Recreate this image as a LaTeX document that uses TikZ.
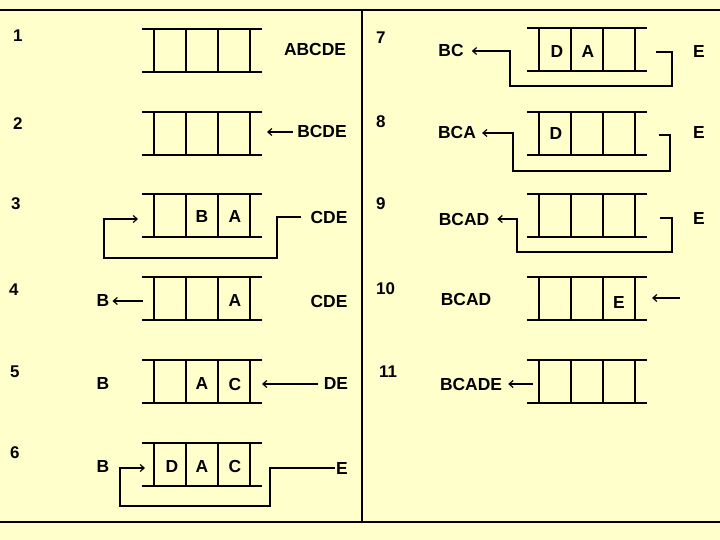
\documentclass[tikz,border=0pt]{standalone}
\usepackage{fontspec}
\setmainfont{Liberation Sans}
\usetikzlibrary{arrows.meta}
\definecolor{bg}{HTML}{FFFFCC}
\newcommand\qbuf[2]{%
  \draw[bufline] (#1,#2) -- ++(120,0);
  \draw[bufline] (#1,#2+43) -- ++(120,0);
  \foreach \dx in {12,44,76,108} {\draw[cellline] (#1+\dx,#2) -- ++(0,43);}
}
\begin{document}
\begin{tikzpicture}[x=1bp,y=-1bp,
  bufline/.style={line width=1.6bp},
  cellline/.style={line width=1.3bp},
  frame/.style={line width=2.2bp},
  arr/.style={line width=1.2bp,-{Straight Barb[length=4bp,width=7bp]}},
  lbl/.style={inner sep=0pt,font=\bfseries\fontsize{17.5}{19}\selectfont},
  num/.style={inner sep=0pt,anchor=west,font=\bfseries\fontsize{17}{19}\selectfont}]
\fill[bg] (0,0) rectangle (720,540);
\useasboundingbox (0,0) rectangle (720,540);
% frame
\draw[frame] (0,10) -- (720,10);
\draw[frame] (0,522) -- (720,522);
\draw[frame] (362,10) -- (362,522);
% buffers
\qbuf{142}{29}
\qbuf{142}{112}
\qbuf{142}{194}
\qbuf{142}{277}
\qbuf{142}{360}
\qbuf{142}{443}
\qbuf{527}{28}
\qbuf{527}{112}
\qbuf{527}{194}
\qbuf{527}{277}
\qbuf{527}{360}
% step numbers
\node[num] (n1) at (13,36) {1};
\node[num] (n2) at (13,124) {2};
\node[num] (n3) at (11,204) {3};
\node[num] (n4) at (9,290) {4};
\node[num] (n5) at (10,372) {5};
\node[num] (n6) at (10,453) {6};
\node[num] (n7) at (376,38) {7};
\node[num] (n8) at (376,122) {8};
\node[num] (n9) at (376,204) {9};
\node[num] (n10) at (376,289) {10};
\node[num] (n11) at (379,372) {11};
% row 1
\node[lbl] (l1) at (315,50) {ABCDE};
% row 2
\node[lbl] (l2) at (322,132) {BCDE};
\coordinate (in2) at (267,132);
\draw[arr] ([xshift=-4bp]l2.west) -- (in2);
% row 3
\node[lbl] (b3) at (202,217) {B};
\node[lbl] (a3) at (235,217) {A};
\node[lbl] (l3) at (329,217) {CDE};
\coordinate (in3) at (138,219);
\draw[arr] ([xshift=-9bp]l3.west) -- (277,217) -- (277,258) -- (104,258) |- (in3);
% row 4
\node[lbl] (b4) at (103,301) {B};
\node[lbl] (a4) at (235,301) {A};
\node[lbl] (l4) at (329,301) {CDE};
\coordinate (out4) at (143,301);
\draw[arr] (out4) -- ([xshift=3bp]b4.east);
% row 5
\node[lbl] (b5) at (103,384) {B};
\node[lbl] (a5) at (202,384) {A};
\node[lbl] (c5) at (235,384) {C};
\node[lbl] (l5) at (336,384) {DE};
\coordinate (in5) at (262,384);
\draw[arr] ([xshift=-6bp]l5.west) -- (in5);
% row 6
\node[lbl] (b6) at (103,466) {B};
\node[lbl] (d6) at (172,466) {D};
\node[lbl] (a6) at (202,466) {A};
\node[lbl] (c6) at (235,466) {C};
\node[lbl] (l6) at (342,468) {E};
\coordinate (in6) at (145,468);
\draw[arr] ([xshift=-1bp]l6.west) -- (270,468) -- (270,506) -- (120,506) |- (in6);
% row 7
\node[lbl] (l7) at (451,51) {BC};
\node[lbl] (d7) at (557,52) {D};
\node[lbl] (a7) at (588,52) {A};
\node[lbl] (e7) at (699,52) {E};
\coordinate (out7) at (656,52);
\draw[arr] (out7) -- (672,52) -- (672,86) -- (510,86) |- ([xshift=8bp]l7.east);
% row 8
\node[lbl] (l8) at (457,133) {BCA};
\node[lbl] (d8) at (556,134) {D};
\node[lbl] (e8) at (699,133) {E};
\coordinate (out8) at (659,135);
\draw[arr] (out8) -- (670,135) -- (670,171) -- (513,171) |- ([xshift=6bp]l8.east);
% row 9
\node[lbl] (l9) at (464,219) {BCAD};
\node[lbl] (e9) at (699,219) {E};
\coordinate (out9) at (660,218);
\draw[arr] (out9) -- (672,218) -- (672,252) -- (517,252) |- ([xshift=8bp]l9.east);
% row 10
\node[lbl] (l10) at (466,299) {BCAD};
\node[lbl] (e10) at (619,303) {E};
\coordinate (out10) at (680,298);
\coordinate (in10) at (652,298);
\draw[arr] (out10) -- (in10);
% row 11
\node[lbl] (l11) at (471,384) {BCADE};
\coordinate (out11) at (533,384);
\draw[arr] (out11) -- ([xshift=6bp]l11.east);
\end{tikzpicture}
\end{document}
